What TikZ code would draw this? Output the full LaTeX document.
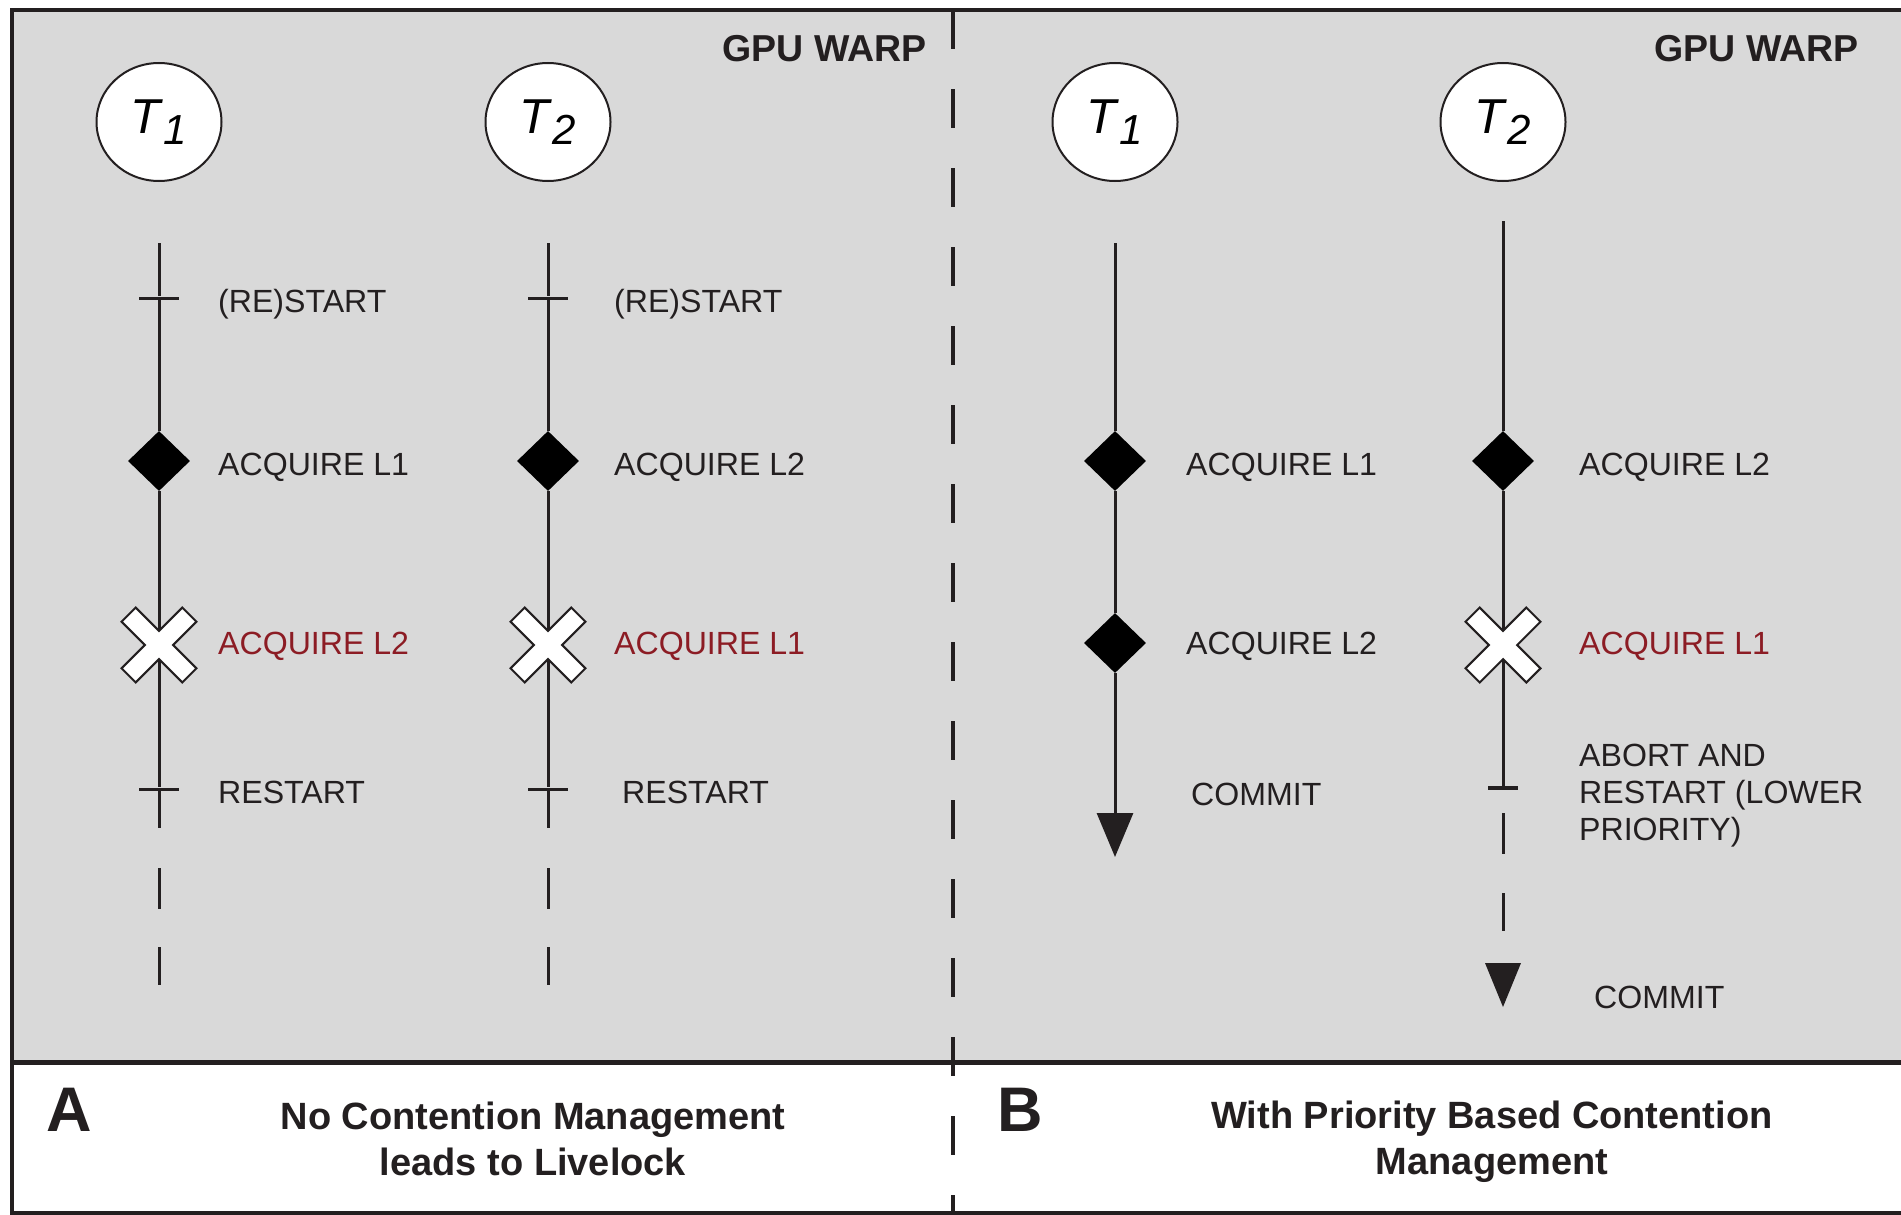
\documentclass[tikz,border=0pt]{standalone}
\usepackage{fontspec}
\setmainfont{Liberation Sans}
\usetikzlibrary{shapes.geometric,arrows.meta}
\definecolor{bg}{RGB}{217,217,217}
\definecolor{txt}{RGB}{35,31,32}
\definecolor{failred}{RGB}{140,28,36}
\newcommand\thrlabel[2]{\textit{#1}\raisebox{-11pt}{\fontsize{42pt}{42pt}\selectfont\textit{#2}}}
\tikzset{
  tl/.style={line width=3pt, draw=txt},
  tickbar/.style={rectangle, fill=txt, minimum width=40pt, minimum height=3pt, inner sep=0pt},
  endbar/.style={rectangle, fill=txt, minimum width=30pt, minimum height=4pt, inner sep=0pt},
  lock/.style={diamond, fill=black, minimum width=62pt, minimum height=60pt, inner sep=0pt},
  thread/.style={ellipse, draw=txt, line width=2pt, fill=white, minimum width=125pt, minimum height=118pt, inner sep=0pt, font=\fontsize{49pt}{49pt}\selectfont},
  lbl/.style={anchor=base west, inner sep=0pt, font=\fontsize{32.1pt}{37.5pt}\selectfont, text=txt},
  fail/.style={lbl, text=failred},
  warp/.style={anchor=base east, inner sep=0pt, font=\bfseries\fontsize{37.5pt}{40pt}\selectfont, text=txt},
  captext/.style={anchor=base, inner sep=0pt, font=\bfseries\fontsize{38pt}{45pt}\selectfont, text=txt},
  panel/.style={anchor=base west, inner sep=0pt, font=\bfseries\fontsize{63pt}{63pt}\selectfont, text=txt},
  xmark/.style={draw=txt, line width=2pt, fill=white, line join=miter},
  cont/.style={tl, dash pattern=on 41pt off 38pt},
}
\newcommand\crossat[1]{%
  \draw[xmark, shift={(#1)}, rotate=45] (-10,43) -- (10,43) -- (10,10) -- (43,10) -- (43,-10) -- (10,-10) -- (10,-43) -- (-10,-43) -- (-10,-10) -- (-43,-10) -- (-43,10) -- (-10,10) -- cycle;
  \draw[tl] (#1) ++(0,-37) -- ++(0,22);
  \draw[tl] (#1) ++(0,17) -- ++(0,20);
}
\begin{document}
\begin{tikzpicture}[x=1pt, y=-1pt]
\useasboundingbox (0,0) rectangle (1901,1215);
% frame
\fill[white] (0,0) rectangle (1901,1215);
\fill[bg] (12,10) rectangle (1910,1062);
\draw[txt, line width=3.5pt] (12,10) rectangle (1910,1213);
\draw[txt, line width=5pt] (12,1062) -- (1910,1062);
\draw[txt, line width=4pt, dash pattern=on 39pt off 40pt] (953,10) -- (953,1215);

% titles
\node[warp] (wa) at (927,62) {GPU WARP};
\node[warp] (wb) at (1859,62) {GPU WARP};

% threads
\node[thread] (ta1) at (159,122) {\thrlabel{T}{1}};
\node[thread] (ta2) at (548,122) {\thrlabel{T}{2}};
\node[thread] (tb1) at (1115,122) {\thrlabel{T}{1}};
\node[thread] (tb2) at (1503,122) {\thrlabel{T}{2}};

% ---------- Panel A, T1 ----------
\coordinate (a1top) at (159,243);
\node[tickbar] (a1r) at (159,298) {};
\node[lock] (a1l) at (159,461) {};
\coordinate (a1x) at (159,645);
\node[tickbar] (a1rs) at (159,789) {};
\coordinate (a1end) at (159,828);
\coordinate (a1d) at (159,868);
\coordinate (a1e) at (159,985);
\draw[tl] (a1top) -- (a1r) -- (a1l) -- (a1x);
\draw[tl] (a1x) -- (a1rs) -- (a1end);
\crossat{a1x}
\draw[cont] (a1d) -- (a1e);
\node[lbl] (a1rt) at (218,312) {(RE)START};
\node[lbl] (a1lt) at (218,475) {ACQUIRE L1};
\node[fail] (a1xt) at (218,654) {ACQUIRE L2};
\node[lbl] (a1st) at (218,803) {RESTART};

% ---------- Panel A, T2 ----------
\coordinate (a2top) at (548,243);
\node[tickbar] (a2r) at (548,298) {};
\node[lock] (a2l) at (548,461) {};
\coordinate (a2x) at (548,645);
\node[tickbar] (a2rs) at (548,789) {};
\coordinate (a2end) at (548,828);
\coordinate (a2d) at (548,868);
\coordinate (a2e) at (548,985);
\draw[tl] (a2top) -- (a2r) -- (a2l) -- (a2x);
\draw[tl] (a2x) -- (a2rs) -- (a2end);
\crossat{a2x}
\draw[cont] (a2d) -- (a2e);
\node[lbl] (a2rt) at (614,312) {(RE)START};
\node[lbl] (a2lt) at (614,475) {ACQUIRE L2};
\node[fail] (a2xt) at (614,654) {ACQUIRE L1};
\node[lbl] (a2st) at (622,803) {RESTART};

% ---------- Panel B, T1 ----------
\coordinate (b1top) at (1115,243);
\node[lock] (b1l1) at (1115,461) {};
\node[lock] (b1l2) at (1115,643) {};
\coordinate (b1end) at (1115,857);
\draw[tl] (b1top) -- (b1l1) -- (b1l2);
\draw[tl, -{Triangle[length=44pt, width=36pt]}] (b1l2) -- (b1end);
\node[lbl] (b1lt1) at (1186,475) {ACQUIRE L1};
\node[lbl] (b1lt2) at (1186,654) {ACQUIRE L2};
\node[lbl] (b1ct) at (1191,805) {COMMIT};

% ---------- Panel B, T2 ----------
\coordinate (b2top) at (1503,221);
\node[lock] (b2l) at (1503,461) {};
\coordinate (b2x) at (1503,645);
\node[endbar] (b2bar) at (1503,788) {};
\coordinate (b2d1) at (1503,813);
\coordinate (b2d2) at (1503,854);
\coordinate (b2d3) at (1503,893);
\coordinate (b2d4) at (1503,931);
\coordinate (b2tip) at (1503,1007);
\draw[tl] (b2top) -- (b2l) -- (b2x);
\draw[tl] (b2x) -- (b2bar);
\crossat{b2x}
\draw[tl] (b2d1) -- (b2d2);
\draw[tl] (b2d3) -- (b2d4);
\fill[txt] (b2tip) -- ++(-18,-44) -- ++(36,0) -- cycle;
\node[lbl] (b2lt) at (1579,475) {ACQUIRE L2};
\node[fail] (b2xt) at (1579,654) {ACQUIRE L1};
\node[lbl] (b2ab1) at (1579,766) {ABORT AND};
\node[lbl] (b2ab2) at (1579,803) {RESTART (LOWER};
\node[lbl] (b2ab3) at (1579,840) {PRIORITY)};
\node[lbl] (b2ct) at (1594,1008) {COMMIT};

% ---------- captions ----------
\node[panel] (pa) at (46,1131) {A};
\node[panel] (pb) at (997,1131) {B};
\node[captext] (ca1) at (533,1129) {No Contention Management};
\node[captext] (ca2) at (533,1175) {leads to Livelock};
\node[captext] (cb1) at (1492,1128) {With Priority Based Contention};
\node[captext] (cb2) at (1492,1174) {Management};
\end{tikzpicture}
\end{document}
